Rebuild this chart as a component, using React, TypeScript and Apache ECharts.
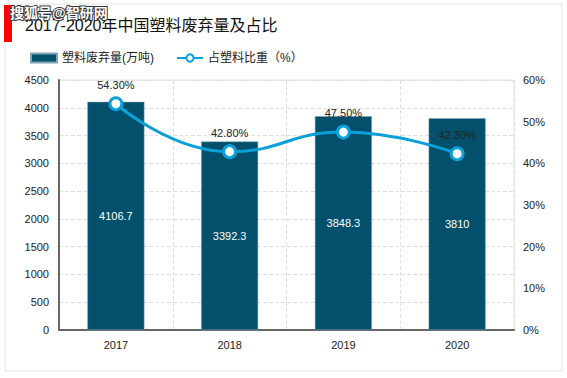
import React, { useEffect, useRef } from "react";
import * as echarts from "echarts";

const categories = ["2017", "2018", "2019", "2020"];
const wasteValues = [4106.7, 3392.3, 3848.3, 3810];
const shareValues = [54.3, 42.8, 47.5, 42.3];
const titleText = "2017-2020年中国塑料废弃量及占比";
const barName = "塑料废弃量(万吨)";
const lineName = "占塑料比重（%）";

export default function App() {
  const ref = useRef<HTMLDivElement>(null);
  useEffect(() => {
    if (!ref.current) return;
    const chart = echarts.init(ref.current, null, { renderer: "svg" });
    const font = "Arial, 'Liberation Sans', 'Noto Sans CJK SC', sans-serif";
    chart.setOption({
      animation: false,
      textStyle: { fontFamily: font },
      graphic: [
        {
          type: "rect",
          shape: { x: 5, y: 4, width: 557, height: 367 },
          style: { fill: "none", stroke: "#e2e2e2", lineWidth: 1 },
          silent: true,
        },
        {
          type: "rect",
          shape: { x: 4, y: 5, width: 8, height: 37 },
          style: { fill: "#f00" },
        },
        {
          type: "text",
          x: 25,
          y: 25,
          style: {
            text: titleText,
            fill: "#111",
            font: "16px " + font,
            verticalAlign: "middle",
          },
        },
        {
          type: "text",
          x: 10,
          y: 13,
          style: {
            text: "搜狐号@智研网",
            fill: "#fff",
            stroke: "#333",
            lineWidth: 2,
            font: "bold 14px " + font,
            verticalAlign: "middle",
          },
        },
      ],
      legend: {
        left: 25,
        top: 47,
        itemWidth: 26,
        itemHeight: 9,
        itemGap: 22,
        textStyle: { fontSize: 12, color: "#222", fontFamily: font },
        data: [
          { name: barName, icon: "rect" },
          { name: lineName },
        ],
      },
      grid: {
        left: 59,
        right: 53,
        top: 80,
        bottom: 48,
        show: true,
        borderColor: "#e0e0e0",
        borderWidth: 1,
      },
      xAxis: {
        type: "category",
        data: categories,
        boundaryGap: true,
        axisLine: { show: true, lineStyle: { color: "#666", width: 2 } },
        axisTick: { show: false },
        axisLabel: { color: "#222", fontSize: 11, margin: 9 },
        splitLine: { show: true, lineStyle: { color: "#e0e0e0", type: "dashed" } },
      },
      yAxis: [
        {
          type: "value",
          min: 0,
          max: 4500,
          interval: 500,
          axisLine: { show: true, lineStyle: { color: "#666", width: 2 } },
          axisTick: { show: false },
          axisLabel: {
            color: "#222",
            fontSize: 11,
            margin: 10,
            formatter: (v: number) => String(v),
          },
          splitLine: { show: true, lineStyle: { color: "#e0e0e0", type: "dashed" } },
        },
        {
          type: "value",
          min: 0,
          max: 60,
          interval: 10,
          axisLine: { show: false },
          axisTick: { show: false },
          axisLabel: { color: "#222", fontSize: 11, margin: 9, formatter: "{value}%" },
          splitLine: { show: false },
        },
      ],
      series: [
        {
          name: barName,
          type: "bar",
          data: wasteValues,
          barWidth: 57,
          itemStyle: { color: "#02506b", borderColor: "#7fa3b3", borderWidth: 0.5 },
          label: {
            show: true,
            position: "inside",
            color: "#fff",
            fontSize: 11,
          },
        },
        {
          name: lineName,
          type: "line",
          yAxisIndex: 1,
          data: shareValues,
          smooth: true,
          symbol: "circle",
          symbolSize: 12,
          lineStyle: { color: "#0aa0d8", width: 3 },
          itemStyle: { color: "#fff", borderColor: "#0aa0d8", borderWidth: 3 },
          label: {
            show: true,
            position: "top",
            distance: 6,
            color: "#222",
            fontSize: 11,
            formatter: (p: any) => Number(p.value).toFixed(2) + "%",
          },
        },
      ],
    });
    return () => chart.dispose();
  }, []);
  return (
    <div
      ref={ref}
      style={{ position: "fixed", left: 0, top: 0, width: 567, height: 378, background: "#fff" }}
    />
  );
}
